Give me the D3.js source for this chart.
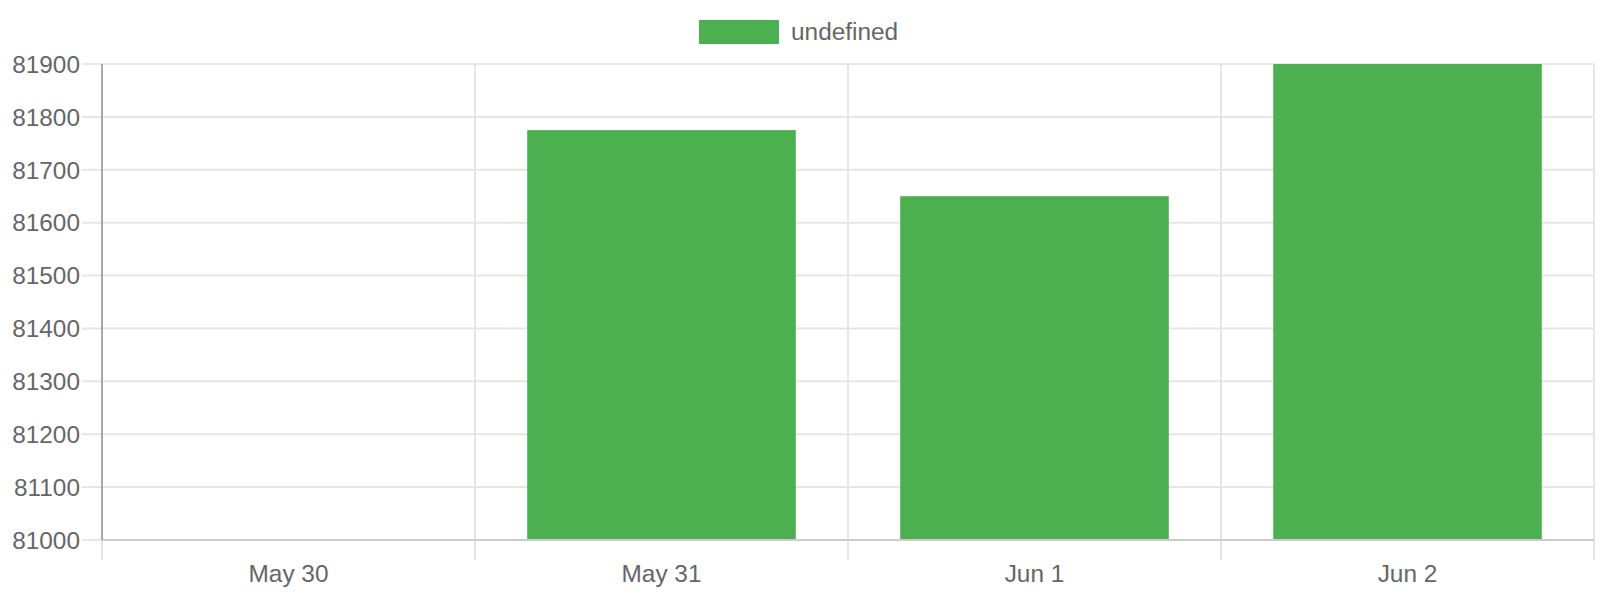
<!DOCTYPE html>
<html>
<head>
<meta charset="utf-8">
<script src="https://cdn.jsdelivr.net/npm/d3@7"></script>
<style>
  html, body { margin: 0; padding: 0; background: #fff; }
  svg { display: block; font-family: "Liberation Sans", Arial, Helvetica, sans-serif; }
</style>
</head>
<body>
<svg id="chart" width="1600" height="600"></svg>
<script>
// ---- data ----
const categories = ["May 30", "May 31", "Jun 1", "Jun 2"];
const values = [null, 81775, 81650, 81900];
const yTicks = [81000, 81100, 81200, 81300, 81400, 81500, 81600, 81700, 81800, 81900];
const seriesName = "undefined";

(function () {
// ---- layout ----
const plotLeft = 102, plotRight = 1594, plotTop = 64, plotBottom = 540;
const barColor = "#4caf50";
const textColor = "#666666";
const fontSize = 24.4;

const svg = d3.select("#chart");

const x = d3.scaleBand().domain(categories).range([plotLeft, plotRight]).paddingInner(0).paddingOuter(0);
const y = d3.scaleLinear().domain([81000, 81900]).range([plotBottom, plotTop]).clamp(true);

// horizontal gridlines with left ticks
svg.append("g").selectAll("line").data(yTicks).join("line")
  .attr("x1", plotLeft - 20).attr("x2", plotRight)
  .attr("y1", d => y(d)).attr("y2", d => y(d))
  .attr("stroke", "#e6e6e6").attr("stroke-width", 2);

// vertical gridlines (category boundaries) with bottom ticks
const bounds = categories.map(c => x(c)).concat([x(categories[categories.length - 1]) + x.bandwidth()]);
svg.append("g").selectAll("line").data(bounds).join("line")
  .attr("x1", d => d).attr("x2", d => d)
  .attr("y1", plotTop).attr("y2", plotBottom + 20)
  .attr("stroke", "#e6e6e6").attr("stroke-width", 2);

// bars
const bw = x.bandwidth() * 0.72;
svg.append("g").selectAll("rect").data(categories.map((c, i) => ({c, v: values[i]})).filter(d => d.v != null))
  .join("rect")
  .attr("x", d => x(d.c) + (x.bandwidth() - bw) / 2)
  .attr("width", bw)
  .attr("y", d => y(d.v))
  .attr("height", d => y(81000) - y(d.v))
  .attr("fill", barColor);

// axis lines
svg.append("line").attr("x1", plotLeft).attr("x2", plotRight).attr("y1", plotBottom).attr("y2", plotBottom)
  .attr("stroke", "#cccccc").attr("stroke-width", 2);
svg.append("line").attr("x1", plotLeft).attr("x2", plotLeft).attr("y1", plotTop).attr("y2", plotBottom)
  .attr("stroke", "#a8a8a8").attr("stroke-width", 2);

// y tick labels
svg.append("g").selectAll("text").data(yTicks).join("text")
  .attr("x", 80).attr("y", d => y(d)).attr("dy", "0.36em")
  .attr("text-anchor", "end")
  .attr("font-size", fontSize).attr("fill", textColor)
  .text(d => d);

// x tick labels
svg.append("g").selectAll("text").data(categories).join("text")
  .attr("x", d => x(d) + x.bandwidth() / 2).attr("y", 582)
  .attr("text-anchor", "middle")
  .attr("font-size", fontSize).attr("fill", textColor)
  .text(d => d);

// legend
const lg = svg.append("g");
lg.append("rect").attr("x", 699).attr("y", 20).attr("width", 80).attr("height", 24).attr("fill", barColor);
lg.append("text").attr("x", 791).attr("y", 40).attr("font-size", fontSize).attr("fill", textColor).text(seriesName);
})();
</script>
</body>
</html>
